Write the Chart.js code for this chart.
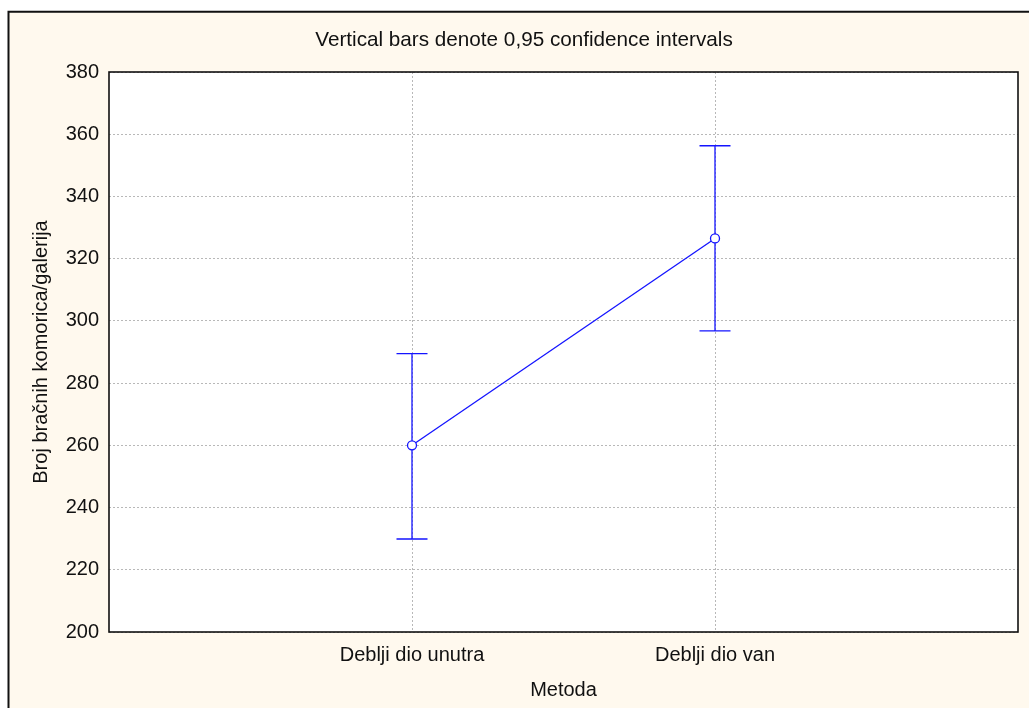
<!DOCTYPE html>
<html>
<head>
<meta charset="utf-8">
<script src="https://cdn.jsdelivr.net/npm/chart.js@4"></script>
<style>
  body { margin: 0; background: #ffffff; }
  canvas { display: block; }
</style>
</head>
<body>
<canvas id="meansChart" width="1029" height="708"></canvas>
<script>
// data
const categories = ['Deblji dio unutra', 'Deblji dio van'];
const means = [260.0, 326.5];
const lowerCI = [229.9, 296.8];
const upperCI = [289.5, 356.3];
const yMin = 200, yMax = 380, yStep = 20;
const chartTitle = 'Vertical bars denote 0,95 confidence intervals';

const lineBlue = '#1414ff';
const fontFamily = '"Liberation Sans", Arial, sans-serif';

// backgrounds, outer frame, title and plot frame
const framePlugin = {
  id: 'frames',
  beforeDraw(chart) {
    const ctx = chart.ctx;
    const a = chart.chartArea;
    ctx.save();
    ctx.fillStyle = '#ffffff';
    ctx.fillRect(0, 0, chart.width, chart.height);
    ctx.fillStyle = '#fff9ee';
    ctx.fillRect(8, 11, chart.width, chart.height);
    ctx.strokeStyle = '#111111';
    ctx.lineWidth = 2;
    ctx.beginPath();
    ctx.moveTo(8.5, chart.height + 2);
    ctx.lineTo(8.5, 11.8);
    ctx.lineTo(chart.width + 2, 11.8);
    ctx.stroke();
    ctx.fillStyle = '#ffffff';
    ctx.fillRect(a.left, a.top, a.right - a.left, a.bottom - a.top);
    // title sits a little right of the canvas centre in the original
    ctx.fillStyle = '#111111';
    ctx.font = '20.7px ' + fontFamily;
    ctx.textAlign = 'center';
    ctx.textBaseline = 'middle';
    ctx.fillText(chartTitle, 524, 40);
    ctx.restore();
  },
  afterDraw(chart) {
    const ctx = chart.ctx;
    const a = chart.chartArea;
    ctx.save();
    ctx.strokeStyle = '#111111';
    ctx.lineWidth = 1.6;
    ctx.strokeRect(a.left, a.top, a.right - a.left, a.bottom - a.top);
    ctx.restore();
  }
};

// whiskers for the confidence intervals
const errorBarPlugin = {
  id: 'errorBars',
  beforeDatasetsDraw(chart) {
    const ctx = chart.ctx;
    const xs = chart.scales.x, ys = chart.scales.y;
    ctx.save();
    ctx.strokeStyle = lineBlue;
    ctx.lineWidth = 1.3;
    categories.forEach((c, i) => {
      const x = xs.getPixelForValue(i + 1);
      const yLo = ys.getPixelForValue(lowerCI[i]);
      const yHi = ys.getPixelForValue(upperCI[i]);
      ctx.beginPath();
      ctx.moveTo(x, yLo);
      ctx.lineTo(x, yHi);
      ctx.moveTo(x - 15.5, yLo);
      ctx.lineTo(x + 15.5, yLo);
      ctx.moveTo(x - 15.5, yHi);
      ctx.lineTo(x + 15.5, yHi);
      ctx.stroke();
    });
    ctx.restore();
  }
};

const ctx = document.getElementById('meansChart').getContext('2d');
const meansChart = new Chart(ctx, {
  type: 'line',
  data: {
    datasets: [{
      data: means.map((m, i) => ({ x: i + 1, y: m })),
      borderColor: lineBlue,
      borderWidth: 1.3,
      pointRadius: 4.5,
      pointBorderWidth: 1.3,
      pointBackgroundColor: '#ffffff',
      pointBorderColor: lineBlue,
      tension: 0,
      fill: false
    }]
  },
  options: {
    responsive: false,
    animation: false,
    layout: { padding: { left: 0, right: 11, top: 72, bottom: 0 } },
    scales: {
      x: {
        type: 'linear',
        min: 0,
        max: 3,
        afterBuildTicks(scale) {
          scale.ticks = categories.map((c, i) => ({ value: i + 1 }));
        },
        afterFit(scale) { scale.height = 76; },
        ticks: {
          callback: (v) => categories[v - 1],
          color: '#111111',
          font: { family: fontFamily, size: 20 },
          padding: 11,
          maxRotation: 0
        },
        grid: { color: '#b8b8b8', lineWidth: 1, drawTicks: false },
        border: { display: false, dash: [2, 2] },
        title: {
          display: true,
          text: 'Metoda',
          color: '#111111',
          font: { family: fontFamily, size: 20 },
          padding: { top: 0, bottom: 6 }
        }
      },
      y: {
        min: yMin,
        max: yMax,
        afterFit(scale) { scale.width = 109; },
        ticks: {
          stepSize: yStep,
          color: '#111111',
          font: { family: fontFamily, size: 20 },
          padding: 10
        },
        grid: { color: '#b8b8b8', lineWidth: 1, drawTicks: false },
        border: { display: false, dash: [2, 2] },
        title: {
          display: true,
          text: 'Broj bračnih komorica/galerija',
          color: '#111111',
          font: { family: fontFamily, size: 20 },
          padding: { top: 29, bottom: 0 }
        }
      }
    },
    plugins: {
      legend: { display: false },
      tooltip: { enabled: false },
      title: { display: false }
    }
  },
  plugins: [framePlugin, errorBarPlugin]
});
</script>
</body>
</html>
